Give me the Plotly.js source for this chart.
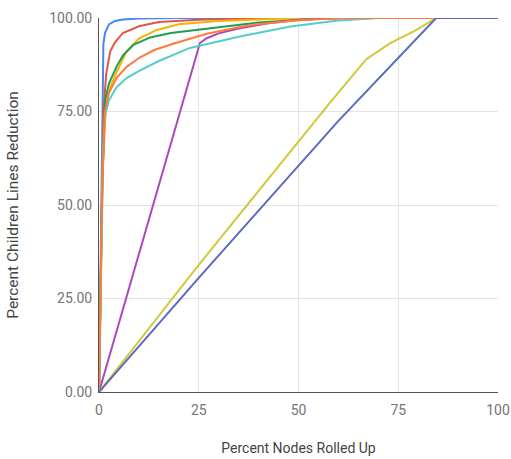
<!DOCTYPE html>
<html>
<head>
<meta charset="utf-8">
<script src="https://cdn.plot.ly/plotly-3.0.1.min.js"></script>
<style>
  html, body { margin: 0; padding: 0; background: #fff; }
  #chart { width: 511px; height: 459px; }
</style>
</head>
<body>
<div id="chart"></div>
<script>
// Percent Nodes Rolled Up (x) vs Percent Children Lines Reduction (y), one pair of arrays per series
const blueX   = [0, 0.8, 1.1, 1.5, 2.5, 4, 6, 10, 20, 100];
const blueY   = [0, 80, 93, 96, 98.3, 99.2, 99.6, 99.85, 100, 100];

const redX    = [0, 0.8, 1.1, 1.8, 2.8, 4, 6, 10, 15, 25, 40, 60, 100];
const redY    = [0, 60, 75, 85, 91, 93.5, 96, 97.8, 98.9, 99.5, 99.9, 100, 100];

const goldX   = [0, 1, 1.5, 1.9, 3, 4.4, 6.9, 10, 14.5, 20, 30, 45, 60, 100];
const goldY   = [0, 60, 72, 78, 82, 85.5, 91, 94.5, 96.8, 98.3, 99.2, 99.8, 100, 100];

const greenX  = [0, 0.8, 1.5, 2.5, 4.4, 6, 8.6, 12.8, 18, 27.8, 40, 55, 65, 100];
const greenY  = [0, 55, 78, 82.5, 87, 90, 92.8, 94.8, 96, 97.2, 98.8, 99.8, 100, 100];

const purpleX = [0, 25.3, 27, 30, 35, 42, 50, 60, 100];
const purpleY = [0, 93.3, 94.6, 95.9, 97.2, 98.5, 99.5, 100, 100];

const cyanX   = [0, 0.6, 1, 1.5, 2.5, 4.4, 7, 10.3, 15, 22.8, 35, 48, 60, 70, 100];
const cyanY   = [0, 40, 65, 74, 78, 81.5, 84, 86, 88.5, 92, 95, 97.7, 99.3, 100, 100];

const orangeX = [0, 0.8, 1.5, 2.5, 4.4, 7, 10.3, 14, 18.6, 27, 35, 39.5, 50, 60, 70, 100];
const orangeY = [0, 55, 75, 80, 84, 87, 89.5, 91.5, 93.1, 95.8, 97.5, 98.3, 99.4, 99.9, 100, 100];

const oliveX  = [0, 25, 58, 67, 73, 79, 84.5, 100];
const oliveY  = [0, 34, 77.5, 89, 93.3, 96.5, 100, 100];

const indigoX = [0, 25, 60, 84.5, 100];
const indigoY = [0, 30.5, 72.5, 100, 100];

const xTicks = [0, 25, 50, 75, 100];
const yTicks = [0, 25, 50, 75, 100];
const xTickText = ['0', '25', '50', '75', '100'];
const yTickText = ['0.00', '25.00', '50.00', '75.00', '100.00'];

const series = [
  [blueX, blueY, '#4a86f0'],
  [redX, redY, '#e0574a'],
  [goldX, goldY, '#f4b400'],
  [greenX, greenY, '#1e9e55'],
  [purpleX, purpleY, '#ab47bc'],
  [cyanX, cyanY, '#55cccc'],
  [orangeX, orangeY, '#ff7a3c'],
  [oliveX, oliveY, '#cfc93a'],
  [indigoX, indigoY, '#5c6bc0']
];

const traces = series.map(s => ({
  x: s[0], y: s[1], type: 'scatter', mode: 'lines',
  line: { color: s[2], width: 2 }, hoverinfo: 'skip', showlegend: false
}));

const layout = {
  width: 511, height: 459,
  margin: { l: 99, r: 13, t: 18, b: 67, pad: 0 },
  paper_bgcolor: '#ffffff', plot_bgcolor: '#ffffff',
  font: { family: 'Roboto, Arial, sans-serif', size: 14, color: '#757575' },
  showlegend: false,
  xaxis: {
    range: [0, 100], tickvals: xTicks, ticktext: xTickText,
    showgrid: true, gridcolor: '#e3e3e3', gridwidth: 1,
    zeroline: false, showline: true, linecolor: '#555', linewidth: 1,
    ticks: '', ticklabelstandoff: 5, tickfont: { size: 14, color: '#757575' },
    title: { text: 'Percent Nodes Rolled Up', font: { size: 14, color: '#444' }, standoff: 26 },
    automargin: false, fixedrange: true
  },
  yaxis: {
    range: [0, 100], tickvals: yTicks, ticktext: yTickText,
    showgrid: true, gridcolor: '#e3e3e3', gridwidth: 1,
    zeroline: false, showline: true, linecolor: '#555', linewidth: 1,
    ticks: '', ticklabelstandoff: 3, tickfont: { size: 14, color: '#757575' },
    title: { text: 'Percent Children Lines Reduction', font: { size: 15.5, color: '#444' }, standoff: 26 },
    automargin: false, fixedrange: true
  }
};

Plotly.newPlot('chart', traces, layout, { displayModeBar: false, staticPlot: true });
</script>
</body>
</html>
